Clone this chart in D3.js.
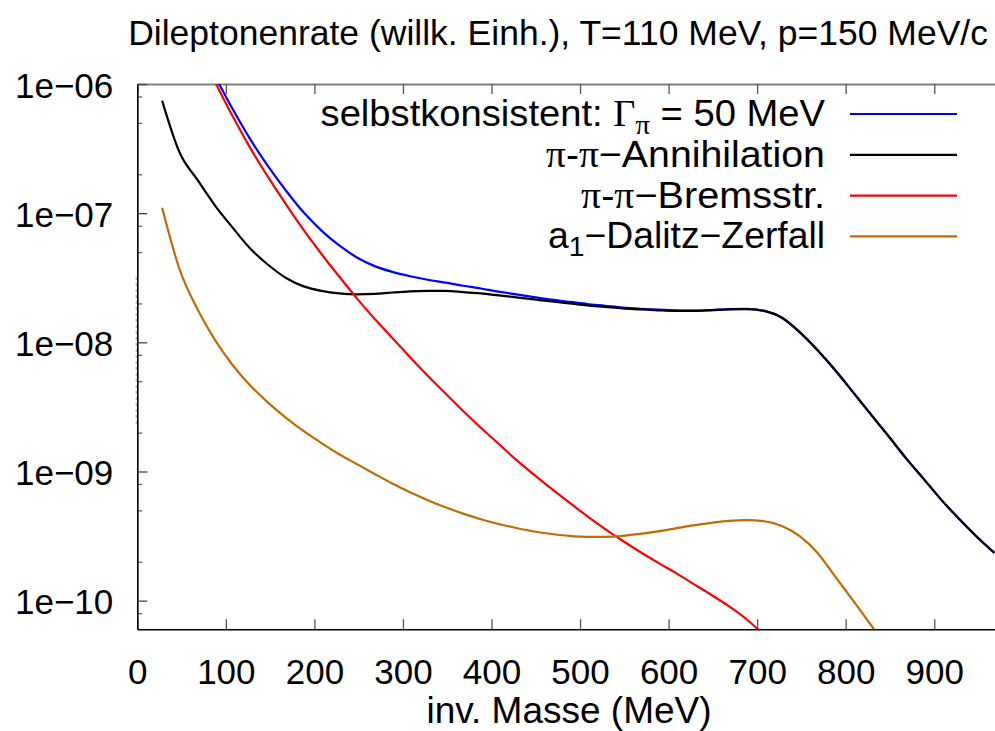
<!DOCTYPE html>
<html>
<head>
<meta charset="utf-8">
<script src="https://cdn.jsdelivr.net/npm/d3@7"></script>
<style>
  html, body { margin: 0; padding: 0; background: #fff; }
  svg { display: block; }
  text { font-family: "Liberation Sans", Arial, sans-serif; fill: #000; }
</style>
</head>
<body>
<svg id="chart" width="995" height="731"></svg>
<script>
// invariant mass grid (MeV)
const masses = [28, 48, 68, 88, 108, 128, 148, 168, 188, 208, 228, 248, 268, 288, 308, 328,
  348, 368, 388, 408, 428, 448, 468, 488, 508, 528, 548, 568, 588, 608, 628, 648,
  668, 688, 708, 728, 748, 768, 788, 808, 828, 848, 868, 888, 908, 928, 948, 968];

// self-consistent rate, Gamma_pi = 50 MeV
const rateSelfConsistent = [null, null, null, 1.14e-6, 6.34e-7, 3.69e-7, 2.29e-7, 1.49e-7,
  1.01e-7, 7.33e-8, 5.62e-8, 4.54e-8, 3.89e-8, 3.51e-8, 3.25e-8, 3.05e-8,
  2.90e-8, 2.74e-8, 2.61e-8, 2.47e-8, 2.35e-8, 2.24e-8, 2.14e-8, 2.06e-8,
  1.98e-8, 1.92e-8, 1.86e-8, 1.82e-8, 1.79e-8, 1.77e-8, 1.76e-8, 1.78e-8,
  1.81e-8, 1.82e-8, 1.75e-8, 1.55e-8, 1.20e-8, 8.73e-9, 6.11e-9, 4.13e-9,
  2.79e-9, 1.89e-9, 1.27e-9, 8.77e-10, 6.03e-10, 4.30e-10, 3.12e-10, 2.34e-10];

// pi-pi annihilation
const rateAnnihilation = [7.43e-7, 2.92e-7, 1.81e-7, 1.14e-7, 7.68e-8, 5.28e-8, 3.97e-8, 3.15e-8,
  2.71e-8, 2.50e-8, 2.39e-8, 2.35e-8, 2.37e-8, 2.43e-8, 2.48e-8, 2.50e-8,
  2.50e-8, 2.45e-8, 2.39e-8, 2.31e-8, 2.23e-8, 2.15e-8, 2.07e-8, 2.00e-8,
  1.93e-8, 1.88e-8, 1.83e-8, 1.80e-8, 1.77e-8, 1.75e-8, 1.75e-8, 1.77e-8,
  1.80e-8, 1.81e-8, 1.75e-8, 1.55e-8, 1.20e-8, 8.73e-9, 6.11e-9, 4.13e-9,
  2.79e-9, 1.89e-9, 1.27e-9, 8.77e-10, 6.03e-10, 4.30e-10, 3.12e-10, 2.34e-10];

// pi-pi bremsstrahlung
const rateBremsstrahlung = [null, null, null, 1.03e-6, 5.57e-7, 3.16e-7, 1.89e-7, 1.17e-7,
  7.38e-8, 4.83e-8, 3.23e-8, 2.19e-8, 1.52e-8, 1.08e-8, 7.68e-9, 5.52e-9,
  4.02e-9, 2.94e-9, 2.18e-9, 1.64e-9, 1.23e-9, 9.46e-10, 7.33e-10, 5.74e-10,
  4.52e-10, 3.60e-10, 2.91e-10, 2.38e-10, 1.97e-10, 1.64e-10, 1.35e-10, 1.11e-10,
  9.06e-11, 7.18e-11, 5.40e-11, null, null, null, null, null,
  null, null, null, null, null, null, null, null];

// a1 Dalitz decay
const rateDalitz = [1.10e-7, 3.63e-8, 1.80e-8, 1.035e-8, 6.62e-9, 4.60e-9, 3.40e-9, 2.60e-9,
  2.05e-9, 1.66e-9, 1.36e-9, 1.14e-9, 9.57e-10, 8.07e-10, 6.90e-10, 6.00e-10,
  5.28e-10, 4.72e-10, 4.27e-10, 3.92e-10, 3.65e-10, 3.43e-10, 3.28e-10, 3.17e-10,
  3.12e-10, 3.12e-10, 3.17e-10, 3.29e-10, 3.44e-10, 3.63e-10, 3.83e-10, 4.00e-10,
  4.15e-10, 4.20e-10, 4.12e-10, 3.79e-10, 3.16e-10, 2.35e-10, 1.54e-10, 1.01e-10,
  6.54e-11, 4.16e-11, null, null, null, null, null, null];

const xTickValues = [0, 100, 200, 300, 400, 500, 600, 700, 800, 900];
const yMajorTicks = [1e-10, 1e-9, 1e-8, 1e-7, 1e-6];
const yTickLabels = ["1e\u221210", "1e\u221209", "1e\u221208", "1e\u221207", "1e\u221206"];
const yMinorTicks = [8e-11, 2e-10, 5e-10, 8e-10, 2e-9, 5e-9, 8e-9, 2e-8, 5e-8, 8e-8, 2e-7, 5e-7, 8e-7];

const titleText = "Dileptonenrate (willk. Einh.), T=110 MeV, p=150 MeV/c";
const xLabelText = "inv. Masse (MeV)";

const series = [
  { values: rateSelfConsistent, color: "#0000ff" },
  { values: rateAnnihilation, color: "#000000" },
  { values: rateBremsstrahlung, color: "#ff0000" },
  { values: rateDalitz, color: "#c46a00" }
];

// legend entries: plain text pieces, greek (serif) pieces and subscripts
const legendEntries = [
  [{ t: "selbstkonsistent: " }, { t: "\u0393", g: true }, { t: "\u03c0", g: true, sub: true }, { t: " = 50 MeV" }],
  [{ t: "\u03c0", g: true }, { t: "-" }, { t: "\u03c0", g: true }, { t: "\u2212Annihilation" }],
  [{ t: "\u03c0", g: true }, { t: "-" }, { t: "\u03c0", g: true }, { t: "\u2212Bremsstr." }],
  [{ t: "a" }, { t: "1", sub: true }, { t: "\u2212Dalitz\u2212Zerfall" }]
];
const legendWidths = [505, 279, 244, 277];

const svg = d3.select("#chart");
const plotLeft = 137.3, plotRight = 1022.8, plotTop = 84, plotBottom = 629.3;

const x = d3.scaleLinear().domain([0, 1000]).range([plotLeft, plotRight]);
const y = d3.scaleLog().domain([6e-11, 1e-6]).range([plotBottom, plotTop]);

// squeeze/stretch a text element horizontally around its anchor
function fitWidth(sel, anchorX, target) {
  const w = sel.node().getBBox().width;
  if (w > 0) {
    const s = target / w;
    sel.attr("transform", `translate(${anchorX},0) scale(${s},1) translate(${-anchorX},0)`);
  }
}

// clip for the curves
svg.append("defs").append("clipPath").attr("id", "plotclip")
  .append("rect").attr("x", plotLeft).attr("y", plotTop)
  .attr("width", plotRight - plotLeft).attr("height", plotBottom - plotTop);

// top border with inward ticks
const topAxis = svg.append("g").attr("transform", `translate(0,${plotTop})`)
  .call(d3.axisTop(x).tickValues(xTickValues).tickSize(-10).tickSizeOuter(0).tickFormat(""));
topAxis.select(".domain").attr("stroke", "#808080").attr("stroke-width", 2);
topAxis.selectAll(".tick line").attr("stroke", "#555").attr("stroke-width", 1.3);

// bottom axis
const xAxis = svg.append("g").attr("transform", `translate(0,${plotBottom})`)
  .call(d3.axisBottom(x).tickValues(xTickValues).tickSize(-10).tickSizeOuter(0).tickPadding(29.9));
xAxis.select(".domain").attr("stroke", "#000").attr("stroke-width", 1.6);
xAxis.selectAll(".tick line").attr("stroke", "#555").attr("stroke-width", 1.3);
xAxis.selectAll(".tick text").attr("font-size", 35)
  .attr("font-family", "'Liberation Sans', Arial, sans-serif").attr("fill", "#000");

// left axis: minor ticks
const yMinor = svg.append("g").attr("transform", `translate(${plotLeft},0)`)
  .call(d3.axisLeft(y).tickValues(yMinorTicks).tickSize(-5).tickSizeOuter(0).tickFormat(""));
yMinor.select(".domain").remove();
yMinor.selectAll(".tick line").attr("stroke", "#666").attr("stroke-width", 1.3);

// left axis: major ticks with labels
const yAxis = svg.append("g").attr("transform", `translate(${plotLeft},0)`)
  .call(d3.axisLeft(y).tickValues(yMajorTicks).tickSize(-10).tickSizeOuter(0).tickPadding(24)
    .tickFormat((d, i) => yTickLabels[i]));
yAxis.select(".domain").attr("stroke", "#000").attr("stroke-width", 1.6);
yAxis.selectAll(".tick line").attr("stroke", "#444").attr("stroke-width", 1.3);
yAxis.selectAll(".tick text").attr("font-size", 35).attr("dy", "0.38em")
  .attr("font-family", "'Liberation Sans', Arial, sans-serif").attr("fill", "#000");

// faint dashed trace along the left border
svg.append("line").attr("x1", plotLeft - 1).attr("x2", plotLeft - 1)
  .attr("y1", y(3.2e-8)).attr("y2", y(2.2e-9))
  .attr("stroke", "#bbb").attr("stroke-width", 1.5).attr("stroke-dasharray", "3 3");

// curves
const line = d3.line()
  .defined(d => d[1] != null)
  .x(d => x(d[0]))
  .y(d => y(d[1]))
  .curve(d3.curveMonotoneX);

const curves = svg.append("g").attr("clip-path", "url(#plotclip)");
series.forEach(s => {
  curves.append("path")
    .datum(masses.map((m, i) => [m, s.values[i]]))
    .attr("d", line)
    .attr("fill", "none")
    .attr("stroke", s.color)
    .attr("stroke-width", 2.2)
    .attr("stroke-linejoin", "round");
});

// legend
const legTextRight = 825, legLineX1 = 850, legLineX2 = 957, legTop = 114, legStep = 40.8;
legendEntries.forEach((parts, i) => {
  const yy = legTop + i * legStep;
  svg.append("line").attr("x1", legLineX1).attr("x2", legLineX2)
    .attr("y1", yy).attr("y2", yy)
    .attr("stroke", series[i].color).attr("stroke-width", 2.2);
  const t = svg.append("text").attr("x", legTextRight).attr("y", yy + 12)
    .attr("text-anchor", "end").attr("font-size", 37);
  let shifted = 0;
  parts.forEach(p => {
    const ts = t.append("tspan").text(p.t);
    if (p.g) ts.attr("font-family", "'Liberation Serif', 'Times New Roman', serif");
    if (p.sub) {
      ts.attr("font-size", 28).attr("dy", 8);
      shifted = 8;
    } else if (shifted) {
      ts.attr("dy", -shifted);
      shifted = 0;
    }
  });
  fitWidth(t, legTextRight, legendWidths[i]);
});

// title
const title = svg.append("text").attr("x", 988).attr("y", 45)
  .attr("text-anchor", "end").attr("font-size", 35).text(titleText);
fitWidth(title, 988, 860);

// x axis label
svg.append("text").attr("x", 569).attr("y", 723)
  .attr("text-anchor", "middle").attr("font-size", 37).text(xLabelText);
</script>
</body>
</html>
